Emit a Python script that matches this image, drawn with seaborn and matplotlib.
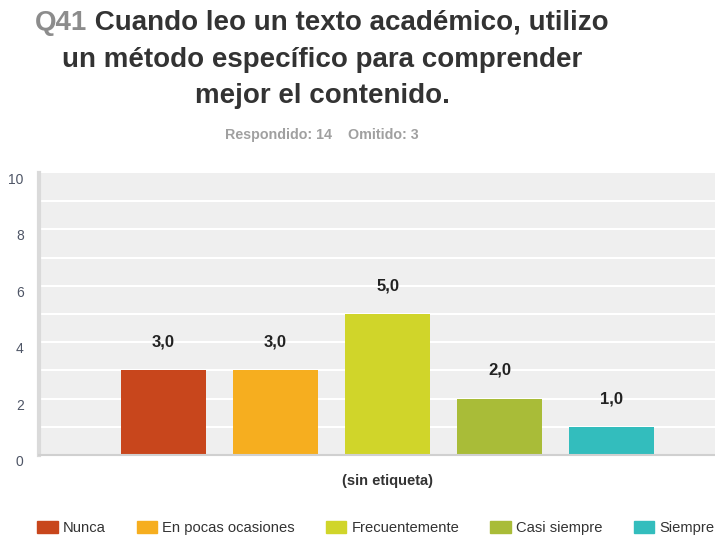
import matplotlib
matplotlib.use("Agg")
import matplotlib.pyplot as plt
import matplotlib.patches as mpatches
import seaborn as sns

# data
categories = ["Nunca", "En pocas ocasiones", "Frecuentemente", "Casi siempre", "Siempre"]
values = [3, 3, 5, 2, 1]
colors = ["#C8461C", "#F6AE1F", "#D0D52A", "#A9BC38", "#33BDBD"]
y_ticks = [0, 2, 4, 6, 8, 10]

title_tag = "Q41"
title_lines = ["Cuando leo un texto académico, utilizo",
               "un método específico para comprender",
               "mejor el contenido."]
subtitle = "Respondido: 14    Omitido: 3"
x_label = "(sin etiqueta)"

sns.set_style("white")
plt.rcParams['font.family'] = ['Liberation Sans', 'DejaVu Sans']

fig = plt.figure(figsize=(7.15, 5.38), dpi=100)
ax = fig.add_axes([39 / 715, 1 - 455 / 538, 1 - 39 / 715, (455 - 173) / 538])

sns.barplot(x=categories, y=values, hue=categories, palette=colors,
            width=0.76, legend=False, ax=ax, saturation=1, edgecolor="none")

ax.set_facecolor("#EFEFEF")
ax.set_xlim(-1.11, 4.92)
ax.set_ylim(0, 10)
for v in range(1, 10):
    ax.axhline(v, color="white", lw=1.5, zorder=0.5)
ax.set_axisbelow(True)

for s in ["top", "right"]:
    ax.spines[s].set_visible(False)
ax.spines["left"].set_color("#DADADA")
ax.spines["left"].set_linewidth(3)
ax.spines["bottom"].set_color("#D0D0D0")
ax.spines["bottom"].set_linewidth(1.5)

ax.set_xticks([])
ax.set_xlabel("")
ax.set_yticks(y_ticks)
ax.set_yticklabels([str(t) for t in y_ticks], fontsize=10, color="#4E5566")
ax.tick_params(axis="y", length=0, pad=11)
for lbl in ax.get_yticklabels():
    lbl.set_verticalalignment("top")

# value labels
for i, v in enumerate(values):
    ax.text(i, v + 1, f"{v},0", ha="center", va="center",
            fontsize=12, fontweight="bold", color="#222222")

fig.text(388 / 715, 1 - 481 / 538, x_label, ha="center", va="center",
         fontsize=10.5, fontweight="bold", color="#333333")

# title
cx = 322 / 715
tsize = 20
t_tag = fig.text(0, 1 - 23 / 538, title_tag, ha="left", va="center",
                 fontsize=tsize, fontweight="bold", color="#8C8C8C")
t_rest = fig.text(0, 1 - 23 / 538, " " + title_lines[0], ha="left", va="center",
                  fontsize=tsize, fontweight="bold", color="#333333")
fig.canvas.draw()
r = fig.canvas.get_renderer()
w1 = t_tag.get_window_extent(r).width
w2 = t_rest.get_window_extent(r).width
x0 = cx * 715 - (w1 + w2) / 2
t_tag.set_x(x0 / 715)
t_rest.set_x((x0 + w1) / 715)
fig.text(cx, 1 - 60 / 538, title_lines[1], ha="center", va="center",
         fontsize=tsize, fontweight="bold", color="#333333")
fig.text(cx, 1 - 96 / 538, title_lines[2], ha="center", va="center",
         fontsize=tsize, fontweight="bold", color="#333333")
fig.text(cx, 1 - 135 / 538, subtitle, ha="center", va="center",
         fontsize=10.3, fontweight="bold", color="#A0A0A0")

# legend
handles = [mpatches.Patch(color=c, label=l) for c, l in zip(colors, categories)]
fig.legend(handles=handles, loc="center left", bbox_to_anchor=(37 / 715, 1 - 528 / 538),
           ncol=5, frameon=False, fontsize=10.6, handlelength=1.4, handleheight=0.85,
           handletextpad=0.35, columnspacing=2.1, borderpad=0, borderaxespad=0,
           labelcolor="#333333")

fig.savefig("out.png", dpi=100)
